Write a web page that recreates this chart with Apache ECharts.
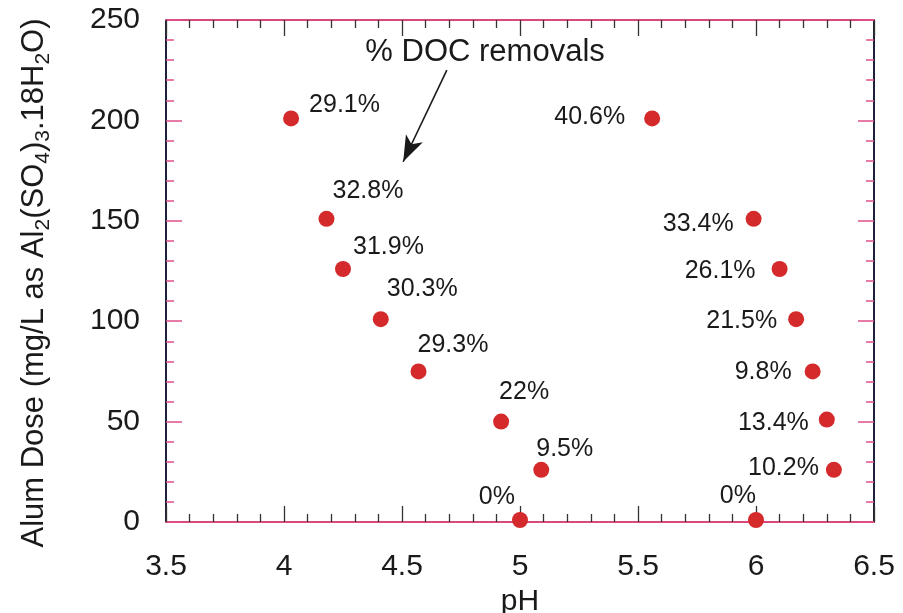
<!DOCTYPE html>
<html><head><meta charset="utf-8">
<script src="https://cdn.jsdelivr.net/npm/echarts@6/dist/echarts.min.js"></script>
<style>html,body{margin:0;padding:0;background:#fff}#c{width:903px;height:613px}</style>
</head><body><div id="c"></div>
<script>
// ---- data ----
const phValues      = [4.03, 4.18, 4.25, 4.41, 4.57, 4.92, 5.09, 5.00, 5.56, 5.99, 6.10, 6.17, 6.24, 6.30, 6.33, 6.00];
const doseValues    = [201, 151, 126, 101, 75, 50, 26, 1, 201, 151, 126, 101, 75, 51, 26, 1];
const removalLabels = ['29.1%','32.8%','31.9%','30.3%','29.3%','22%','9.5%','0%','40.6%','33.4%','26.1%','21.5%','9.8%','13.4%','10.2%','0%'];
const xRange = [3.5, 6.5], xStep = 0.5;
const yRange = [0, 250],   yStep = 50;
const annotationText = '% DOC removals';
const annotationAt   = [4.852, 233.6];
const arrowFrom = [4.69, 225], arrowTo = [4.505, 179.4];

// ---- label placement (style only): [align, dx, dy] from dot centre ----
const labelPlacement = [
  ['left',18,-13],['left',6,-28],['left',10,-22],['left',6,-30],['left',-1,-26],
  ['left',-2,-29],['left',-5,-21],['right',-5,-23],
  ['right',-27,-1],['right',-20,5],['right',-24,2],['right',-19,2],['right',-21,1],
  ['right',-18,4],['right',-15,-2],['right',0,-24]
];

const FONT = 'Liberation Sans';
const SYM = 16;
const txt = '#1a1a1a';

const points = phValues.map((x, i) => ({
  value: [x, doseValues[i]],
  label: {
    show: true,
    formatter: removalLabels[i],
    position: [labelPlacement[i][1] + SYM/2, labelPlacement[i][2] + SYM/2],
    align: labelPlacement[i][0],
    verticalAlign: 'middle',
    fontSize: 25, fontFamily: FONT, color: txt, opacity: 1
  }
}));

function xAx(pos, showLabel) {
  return {
    type: 'value', position: pos, min: xRange[0], max: xRange[1], interval: xStep,
    name: showLabel ? 'pH' : '', nameLocation: 'middle', nameGap: 56,
    nameTextStyle: {fontSize: 30, fontFamily: FONT, color: txt},
    axisLine: {show: true, onZero: false, lineStyle: {color: '#d94a7c', width: 2}},
    axisTick: {show: true, inside: true, length: 16, lineStyle: {color: '#333', width: 1.3}},
    minorTick: {show: true, splitNumber: 5, length: 8, lineStyle: {color: '#333', width: 1.3}},
    axisLabel: {show: showLabel, margin: 30, fontSize: 30, fontFamily: FONT, color: txt,
                formatter: v => String(+v.toFixed(1))},
    splitLine: {show: false}, minorSplitLine: {show: false}
  };
}
function yAx(pos, showLabel) {
  return {
    type: 'value', position: pos, min: yRange[0], max: yRange[1], interval: yStep,
    name: showLabel ? '{n|Alum Dose (mg/L as Al}{s|2}{n|(SO}{s|4}{n|)}{s|3}{n|.18H}{s|2}{n|O)}' : '',
    nameLocation: 'middle', nameGap: 112, nameRotate: 90,
    nameTextStyle: {
      fontSize: 31, fontFamily: FONT, color: txt, padding: [0, 24, 0, 0],
      rich: {
        n: {fontSize: 31, lineHeight: 40, fontFamily: FONT, color: txt},
        s: {fontSize: 21, lineHeight: 21, verticalAlign: 'bottom', fontFamily: FONT, color: txt}
      }
    },
    axisLine: {show: true, onZero: false, lineStyle: {color: '#1f1f3a', width: 2}},
    axisTick: {show: true, inside: true, length: 16, lineStyle: {color: '#e0508a', width: 1.5}},
    minorTick: {show: true, splitNumber: 5, length: 8, lineStyle: {color: '#e0508a', width: 1.5}},
    axisLabel: {show: showLabel, margin: 26, fontSize: 30, fontFamily: FONT, color: txt},
    splitLine: {show: false}, minorSplitLine: {show: false}
  };
}

const chart = echarts.init(document.getElementById('c'), null, {renderer: 'canvas'});
chart.setOption({
  animation: false,
  backgroundColor: '#fff',
  grid: {left: 166, right: 29, top: 20, bottom: 91, containLabel: false, outerBoundsMode: 'none'},
  xAxis: [xAx('bottom', true), xAx('top', false)],
  yAxis: [yAx('left', true), yAx('right', false)],
  series: [{
    type: 'scatter', xAxisIndex: 0, yAxisIndex: 0,
    symbol: 'circle', symbolSize: SYM, clip: false,
    itemStyle: {color: '#d42a2c', opacity: 1},
    data: points,
    markLine: {
      silent: true, symbol: ['none', 'arrow'], symbolSize: [14, 26],
      lineStyle: {color: '#1a1a1a', width: 1.6, type: 'solid', opacity: 1},
      itemStyle: {color: '#1a1a1a', opacity: 1},
      label: {show: false},
      data: [[{coord: arrowFrom}, {coord: arrowTo}]]
    },
    markPoint: {
      silent: true,
      data: [{coord: annotationAt, symbol: 'circle', symbolSize: 0,
              itemStyle: {opacity: 1},
              label: {show: true, position: 'inside', formatter: annotationText,
                      fontSize: 31, fontFamily: FONT, color: txt, opacity: 1}}]
    }
  }]
});
</script>
</body></html>
